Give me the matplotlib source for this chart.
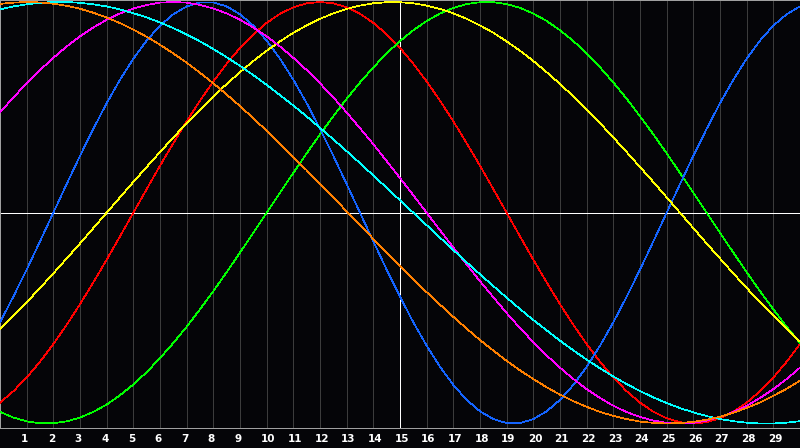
import matplotlib
matplotlib.use("Agg")
import matplotlib.pyplot as plt
from matplotlib.transforms import ScaledTranslation

# half-day steps 0..30 across the chart (-1..1)
days = [i * 0.5 for i in range(61)]
day_labels = [str(d) for d in range(1, 30)]

blue = [-0.520, -0.398, -0.270, -0.136, 0.0, 0.136, 0.270, 0.398, 0.520, 0.631,
        0.731, 0.817, 0.888, 0.942, 0.979, 0.998, 0.998, 0.979, 0.942, 0.888,
        0.817, 0.731, 0.631, 0.520, 0.398, 0.270, 0.136, 0.0, -0.136, -0.270,
        -0.398, -0.520, -0.631, -0.731, -0.817, -0.888, -0.942, -0.979, -0.998, -0.998,
        -0.979, -0.942, -0.888, -0.817, -0.731, -0.631, -0.520, -0.398, -0.270, -0.136,
        0.0, 0.136, 0.270, 0.398, 0.520, 0.631, 0.731, 0.817, 0.888, 0.942, 0.979]
red = [-0.901, -0.847, -0.782, -0.707, -0.623, -0.532, -0.434, -0.330, -0.223, -0.112,
       0.0, 0.112, 0.223, 0.330, 0.434, 0.532, 0.623, 0.707, 0.782, 0.847,
       0.901, 0.944, 0.975, 0.994, 1.0, 0.994, 0.975, 0.944, 0.901, 0.847,
       0.782, 0.707, 0.623, 0.532, 0.434, 0.330, 0.223, 0.112, 0.0, -0.112,
       -0.223, -0.330, -0.434, -0.532, -0.623, -0.707, -0.782, -0.847, -0.901, -0.944,
       -0.975, -0.994, -1.0, -0.994, -0.975, -0.944, -0.901, -0.847, -0.782, -0.707, -0.623]
green = [-0.945, -0.972, -0.990, -0.999, -0.999, -0.990, -0.972, -0.945, -0.910, -0.866,
         -0.815, -0.756, -0.690, -0.618, -0.541, -0.458, -0.372, -0.282, -0.189, -0.095,
         0.0, 0.095, 0.189, 0.282, 0.372, 0.458, 0.541, 0.618, 0.690, 0.756,
         0.815, 0.866, 0.910, 0.945, 0.972, 0.990, 0.999, 0.999, 0.990, 0.972,
         0.945, 0.910, 0.866, 0.815, 0.756, 0.690, 0.618, 0.541, 0.458, 0.372,
         0.282, 0.189, 0.095, 0.0, -0.095, -0.189, -0.282, -0.372, -0.458, -0.541, -0.618]
magenta = [0.476, 0.547, 0.614, 0.677, 0.735, 0.789, 0.837, 0.879, 0.916, 0.946,
           0.969, 0.986, 0.997, 1.0, 0.997, 0.986, 0.969, 0.946, 0.916, 0.879,
           0.837, 0.789, 0.735, 0.677, 0.614, 0.547, 0.476, 0.401, 0.325, 0.245,
           0.165, 0.083, 0.0, -0.083, -0.165, -0.245, -0.325, -0.401, -0.476, -0.547,
           -0.614, -0.677, -0.735, -0.789, -0.837, -0.879, -0.916, -0.946, -0.969, -0.986,
           -0.997, -1.0, -0.997, -0.986, -0.969, -0.946, -0.916, -0.879, -0.837, -0.789, -0.735]
yellow = [-0.552, -0.489, -0.425, -0.357, -0.288, -0.217, -0.146, -0.073, 0.0, 0.073,
          0.146, 0.217, 0.288, 0.357, 0.425, 0.489, 0.552, 0.611, 0.667, 0.720,
          0.769, 0.813, 0.854, 0.889, 0.920, 0.946, 0.967, 0.983, 0.994, 0.999,
          0.999, 0.994, 0.983, 0.967, 0.946, 0.920, 0.889, 0.854, 0.813, 0.769,
          0.720, 0.667, 0.611, 0.552, 0.489, 0.425, 0.357, 0.288, 0.217, 0.146,
          0.073, 0.0, -0.073, -0.146, -0.217, -0.288, -0.357, -0.425, -0.489, -0.552, -0.611]
orange = [0.991, 0.997, 1.000, 0.998, 0.992, 0.982, 0.968, 0.949, 0.926, 0.900,
          0.869, 0.835, 0.797, 0.756, 0.712, 0.664, 0.614, 0.561, 0.506, 0.448,
          0.389, 0.328, 0.265, 0.202, 0.137, 0.072, 0.007, -0.059, -0.124, -0.189,
          -0.252, -0.315, -0.377, -0.436, -0.494, -0.550, -0.604, -0.654, -0.703, -0.748,
          -0.789, -0.828, -0.863, -0.894, -0.921, -0.945, -0.964, -0.979, -0.991, -0.997,
          -1.000, -0.998, -0.992, -0.982, -0.968, -0.949, -0.926, -0.900, -0.869, -0.835, -0.797]
cyan = [0.965, 0.979, 0.989, 0.996, 1.000, 1.000, 0.996, 0.989, 0.979, 0.965,
        0.947, 0.927, 0.903, 0.876, 0.846, 0.813, 0.777, 0.738, 0.697, 0.653,
        0.607, 0.558, 0.509, 0.457, 0.403, 0.348, 0.292, 0.235, 0.177, 0.118,
        0.059, 0.0, -0.059, -0.118, -0.177, -0.235, -0.292, -0.348, -0.403, -0.457,
        -0.509, -0.558, -0.607, -0.653, -0.697, -0.738, -0.777, -0.813, -0.846, -0.876,
        -0.903, -0.927, -0.947, -0.965, -0.979, -0.989, -0.996, -1.000, -1.000, -0.996, -0.989]

bg = "#050508"
fig = plt.figure(figsize=(8, 4.48), dpi=100, facecolor=bg)
ax = fig.add_axes([0, 20 / 448, 1, 428 / 448])
ax.set_facecolor(bg)
ax.set_xlim(0, 30)
ax.set_ylim(-1.0214, 1.0095)

lw = 0.5
for d in range(1, 30):
    ax.axvline(d, color="#3c3c3c", lw=lw, antialiased=False, zorder=1)
ax.axvline(15, color="white", lw=lw, antialiased=False, zorder=2)
ax.axhline(0, color="white", lw=lw, antialiased=False, zorder=2)

series = [(red, "#ff0000"), (green, "#00ff00"), (blue, "#1464ff"),
          (yellow, "#ffff00"), (magenta, "#ff00ff"), (cyan, "#00ffff"),
          (orange, "#ff8000")]
for vals, col in series:
    ax.plot(days, vals, color=col, lw=lw, antialiased=False, zorder=3)

for s in ax.spines.values():
    s.set_color("#a0a0a0")
    s.set_linewidth(0.72)
ax.set_xticks([])
ax.set_yticks([])

# day labels under the frame
shift = ScaledTranslation(0, -11 / 100, fig.dpi_scale_trans)
for i, lab in enumerate(day_labels):
    ax.text(i + 1 - 0.21, -1.0214, lab, color="white", fontsize=7.5,
            fontweight="bold", family="DejaVu Sans", ha="left", va="center",
            transform=ax.transData + shift, clip_on=False)

fig.savefig("out.png", dpi=100, facecolor=bg)
